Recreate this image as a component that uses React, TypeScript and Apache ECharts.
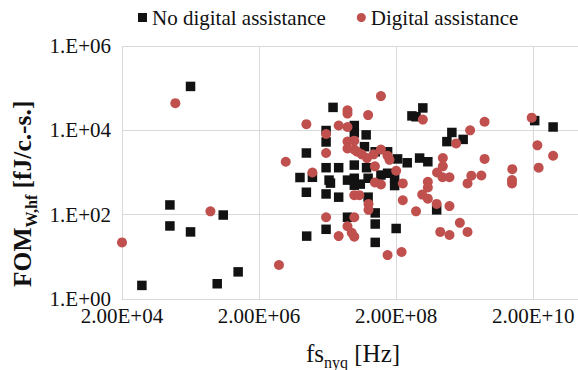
import React, { useEffect, useRef } from "react";
import * as echarts from "echarts";

// ---- data (fs_nyq [Hz], FOM_W,hf [fJ/c.-s.]) ----
const seriesNames = ["No digital assistance", "Digital assistance"];

const noDigitalAssistance: [number, number][] = [
  [2.0e5, 1.1e5], [1.0e5, 170], [6.0e5, 98], [1.0e5, 54], [2.0e5, 39],
  [3.9e4, 2.1], [4.9e5, 2.3], [9.9e5, 4.4], [2.4e7, 3.5e4], [4.9e8, 3.4e4],
  [3.4e8, 2.2e4], [3.9e8, 2.1e4], [4.9e7, 1.3e4], [4.9e7, 8.7e3], [1.9e7, 9.9e3],
  [7.3e7, 7.8e3], [1.9e7, 5.3e3], [6.9e7, 4.1e3], [1.3e9, 8.9e3], [1.1e9, 5.4e3],
  [1.9e9, 6.1e3], [2.1e10, 1.7e4], [3.9e10, 1.2e4], [9.8e6, 2.9e3], [9.9e7, 3.1e3],
  [1.5e8, 3.1e3], [2.1e8, 2.1e3], [2.9e8, 1.7e3], [4.4e8, 2.2e3], [5.8e8, 1.8e3],
  [1.9e7, 1.3e3], [2.9e7, 1.3e3], [4.9e7, 1.5e3], [7.4e7, 1.3e3], [7.9e6, 760],
  [1.2e7, 770], [2.1e7, 660], [2.2e7, 560], [3.9e7, 660], [4.9e7, 730],
  [4.9e7, 500], [6.0e7, 530], [7.8e7, 730], [1.2e8, 870], [1.5e8, 960],
  [1.9e8, 730], [1.9e8, 490], [9.8e6, 340], [1.9e7, 310], [2.9e7, 260],
  [7.8e7, 260], [9.9e7, 110], [3.9e7, 87], [9.9e7, 60], [1.9e7, 45],
  [2.0e8, 47], [9.9e6, 31], [9.9e7, 22], [7.8e8, 130],
];

const digitalAssistance: [number, number][] = [
  [1.2e5, 4.4e4], [3.9e5, 120], [2.0e4, 22], [3.9e6, 6.4], [4.9e6, 1.8e3],
  [9.8e6, 1.4e4], [1.2e7, 1.0e3], [1.9e7, 8.2e3], [1.9e7, 2.9e3], [2.9e7, 1.3e4],
  [3.9e7, 3.0e4], [3.9e7, 2.5e4], [3.9e7, 1.2e4], [3.9e7, 5.4e3], [4.9e7, 5.7e3],
  [3.9e7, 3.7e3], [4.9e7, 3.5e3], [5.4e7, 3.1e3], [6.3e7, 2.7e3], [7.5e7, 2.2e3],
  [9.4e7, 2.7e3], [1.2e8, 3.5e3], [1.5e8, 2.5e3], [1.6e8, 2.0e3], [7.8e7, 2.3e4],
  [1.2e8, 6.5e4], [4.9e8, 1.8e4], [9.8e7, 1.4e3], [2.0e8, 1.1e3], [2.5e8, 550],
  [9.8e7, 580], [1.2e8, 520], [4.9e7, 290], [5.8e7, 290], [7.9e7, 180],
  [7.9e7, 130], [1.9e7, 87], [4.9e7, 87], [3.9e7, 53], [2.9e7, 31],
  [4.5e7, 37], [4.9e7, 30], [1.5e8, 11], [2.4e8, 13], [2.5e8, 220],
  [3.9e8, 120], [4.8e8, 300], [5.8e8, 240], [5.8e8, 600], [5.8e8, 440],
  [7.8e8, 180], [1.2e9, 160], [7.9e8, 1.0e3], [9.6e8, 2.2e3], [9.6e8, 1.4e3],
  [9.5e8, 770], [1.2e9, 770], [1.7e9, 64], [8.8e8, 39], [1.2e9, 33],
  [2.2e9, 39], [2.2e9, 550], [2.5e9, 840], [3.5e9, 850], [3.9e9, 2.1e3],
  [1.5e9, 4.9e3], [2.4e9, 1.0e4], [3.9e9, 1.6e4], [9.9e9, 1.2e3], [9.8e9, 660],
  [9.8e9, 550], [1.9e10, 2.0e4], [2.3e10, 4.4e3], [3.9e10, 2.5e3], [2.4e10, 1.3e3],
];

const xTickLabels = ["2.00E+04", "2.00E+06", "2.00E+08", "2.00E+10"];
const yTickLabels = ["1.E+00", "1.E+02", "1.E+04", "1.E+06"];

const xMin = 2e4;
const xMax = 9e10;
const yMin = 1;
const yMax = 1e6;

const FONT = "Liberation Serif";
const TEXT = "#111111";
const GRID = "#d9d9d9";
const RED = "#c0504d";
const BLACK = "#121212";

export default function App() {
  const ref = useRef<HTMLDivElement>(null);

  useEffect(() => {
    document.body.style.margin = "0";
    if (!ref.current) return;
    const chart = echarts.init(ref.current, undefined, { renderer: "svg" });
    const xSpan = Math.log10(xMax / xMin);
    const ySpan = Math.log10(yMax / yMin);
    chart.setOption({
      animation: false,
      textStyle: { fontFamily: FONT },
      grid: { left: 122, top: 46, right: 0, bottom: 71, outerBoundsMode: "none" },
      legend: {
        left: 133,
        top: 2,
        itemWidth: 9,
        itemHeight: 9,
        itemGap: 31,
        textStyle: { fontFamily: FONT, fontSize: 21, color: TEXT },
        data: [
          { name: seriesNames[0], icon: "rect" },
          { name: seriesNames[1], icon: "circle" },
        ],
      },
      xAxis: [
        { type: "log", logBase: 10, min: xMin, max: xMax, show: false },
        {
          type: "value",
          min: 0,
          max: xSpan,
          interval: 2,
          position: "bottom",
          axisLine: { show: true, lineStyle: { color: GRID } },
          axisTick: { show: false },
          splitLine: { show: true, showMaxLine: false, lineStyle: { color: GRID, width: 1 } },
          axisLabel: {
            showMaxLabel: false,
            margin: 8,
            lineHeight: 17,
            fontFamily: FONT,
            fontSize: 21,
            color: TEXT,
            formatter: (_v: number, i: number) => xTickLabels[i] ?? "",
          },
        },
      ],
      yAxis: [
        { type: "log", logBase: 10, min: yMin, max: yMax, show: false },
        {
          type: "value",
          position: "left",
          min: 0,
          max: ySpan,
          interval: 2,
          axisLine: { show: false },
          axisTick: { show: false },
          splitLine: { show: true, lineStyle: { color: GRID, width: 1 } },
          axisLabel: {
            margin: 11,
            lineHeight: 17,
            fontFamily: FONT,
            fontSize: 21,
            color: TEXT,
            formatter: (_v: number, i: number) => yTickLabels[i] ?? "",
          },
        },
      ],
      graphic: [
        {
          type: "text",
          x: 306,
          y: 353,
          style: {
            text: "{m|fs}{s|nyq}{m| [Hz]}",
            align: "left",
            verticalAlign: "middle",
            rich: {
              m: { fontFamily: FONT, fontSize: 25, lineHeight: 34, fill: TEXT },
              s: { fontFamily: FONT, fontSize: 16, lineHeight: 16, verticalAlign: "bottom", fill: TEXT },
            },
          },
        },
        {
          type: "text",
          x: 22,
          y: 287,
          rotation: Math.PI / 2,
          style: {
            text: "{m|FOM}{s|W,hf}{m| [fJ/c.-s.]}",
            align: "left",
            verticalAlign: "middle",
            rich: {
              m: { fontFamily: FONT, fontSize: 25.5, fontWeight: "bold", lineHeight: 34, fill: TEXT },
              s: { fontFamily: FONT, fontSize: 16, fontWeight: "bold", lineHeight: 16, verticalAlign: "bottom", fill: TEXT },
            },
          },
        },
      ],
      series: [
        {
          name: seriesNames[0],
          type: "scatter",
          xAxisIndex: 0,
          yAxisIndex: 0,
          symbol: "rect",
          symbolSize: 9.5,
          itemStyle: { color: BLACK, opacity: 1 },
          data: noDigitalAssistance,
        },
        {
          name: seriesNames[1],
          type: "scatter",
          xAxisIndex: 0,
          yAxisIndex: 0,
          symbol: "circle",
          symbolSize: 10,
          itemStyle: { color: RED, opacity: 1 },
          data: digitalAssistance,
        },
      ],
    });
    return () => chart.dispose();
  }, []);

  return <div ref={ref} style={{ width: 578, height: 370 }} />;
}
